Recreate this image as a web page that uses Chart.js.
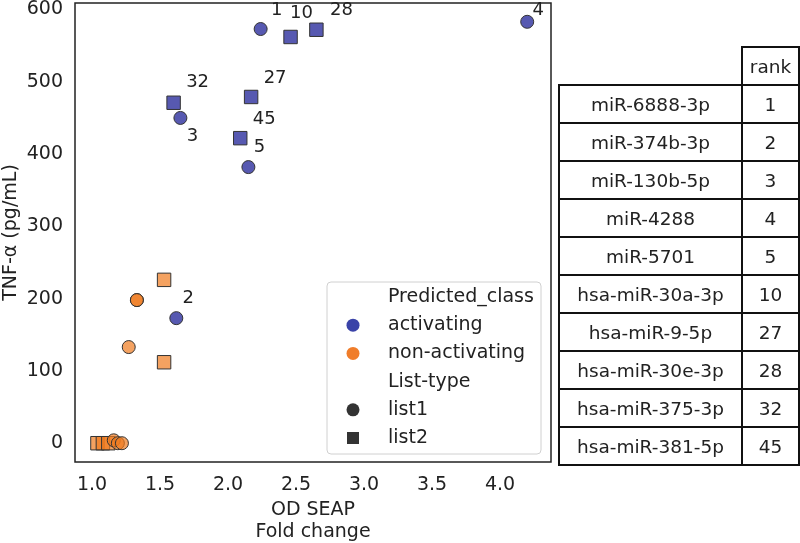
<!DOCTYPE html>
<html>
<head>
<meta charset="utf-8">
<script src="https://cdn.jsdelivr.net/npm/chart.js@4.4.1/dist/chart.umd.min.js"></script>
<style>
  body { margin: 0; background: #fff; }
  #wrap { position: relative; width: 800px; height: 543px; }
  #rankTable {
    position: absolute; left: 558px; top: 46px;
    border-collapse: collapse;
    font-family: "DejaVu Sans"; font-size: 18.5px; color: #222;
  }
  #rankTable td { border: 2px solid #111; height: 38px; box-sizing: border-box; text-align: center; padding: 0; }
  #rankTable td.blank { border: none; border-bottom: 2px solid #111; }
</style>
</head>
<body>
<div id="wrap">
  <canvas id="chart" width="800" height="543"></canvas>
  <table id="rankTable"></table>
</div>
<script>
// axis ticks
var xTicks = [1.0, 1.5, 2.0, 2.5, 3.0, 3.5, 4.0];
var yTicks = [0, 100, 200, 300, 400, 500, 600];

// activating, list1 (circles)
var actList1Rank = [1, 2, 3, 4, 5];
var actList1X = [2.24, 1.62, 1.65, 4.20, 2.15];
var actList1Y = [573, 173, 450, 583, 382];

// activating, list2 (squares)
var actList2Rank = [10, 27, 28, 32, 45];
var actList2X = [2.46, 2.17, 2.65, 1.60, 2.09];
var actList2Y = [562, 479, 572, 471, 422];

// non-activating
var nonList1X = [1.33, 1.33, 1.27, 1.16, 1.19, 1.22];
var nonList1Y = [198, 198, 133, 4, 0, 0];
var nonList2X = [1.53, 1.53, 1.04, 1.08, 1.12];
var nonList2Y = [226, 112, 0, 0, 0];

// table
var mirNames = ["miR-6888-3p", "miR-374b-3p", "miR-130b-5p", "miR-4288", "miR-5701",
  "hsa-miR-30a-3p", "hsa-miR-9-5p", "hsa-miR-30e-3p", "hsa-miR-375-3p", "hsa-miR-381-5p"];
var mirRanks = [1, 2, 3, 4, 5, 10, 27, 28, 32, 45];

// legend
var legendLabels = ["Predicted_class", "activating", "non-activating", "List-type", "list1", "list2"];

var FONT = "DejaVu Sans";
var blueFill = "rgba(45, 47, 158, 0.8)";
var orangeFill = "rgba(240, 122, 30, 0.7)";
var edge = "#333";

// label offsets in px, by rank
var labelOffset = {
  1: [16, -19], 2: [12, -20], 3: [12, 18], 4: [11, -11], 5: [11, -20],
  10: [11, -24], 27: [24, -19], 28: [25, -19], 32: [24, -20], 45: [24, -19]
};

function pts(xs, ys) {
  return xs.map(function (x, i) { return { x: x, y: ys[i] }; });
}

// build table
var tbl = document.getElementById("rankTable");
var html = '<tr><td class="blank" style="width:183px"></td><td style="width:57px">rank</td></tr>';
mirNames.forEach(function (n, i) {
  html += "<tr><td>" + n + "</td><td>" + mirRanks[i] + "</td></tr>";
});
tbl.innerHTML = html;

var framePlugin = {
  id: "frame",
  beforeDatasetsDraw: function (chart) {
    var a = chart.chartArea, ctx = chart.ctx;
    ctx.save();
    ctx.strokeStyle = "#222";
    ctx.lineWidth = 1.5;
    ctx.strokeRect(a.left, a.top, a.right - a.left, a.bottom - a.top);
    ctx.restore();
  }
};

var labelPlugin = {
  id: "rankLabels",
  afterDatasetsDraw: function (chart) {
    var ctx = chart.ctx;
    ctx.save();
    ctx.font = "18px '" + FONT + "'";
    ctx.fillStyle = "#222";
    ctx.textAlign = "center";
    ctx.textBaseline = "middle";
    chart.data.datasets.forEach(function (ds, di) {
      if (!ds.ranks) return;
      var meta = chart.getDatasetMeta(di);
      ds.ranks.forEach(function (r, i) {
        var el = meta.data[i], off = labelOffset[r];
        ctx.fillText(String(r), el.x + off[0], el.y + off[1]);
      });
    });
    ctx.restore();
  }
};

var legendPlugin = {
  id: "boxLegend",
  afterDatasetsDraw: function (chart) {
    var a = chart.chartArea, ctx = chart.ctx;
    var w = 214, h = 172;
    var x0 = a.right - 10 - w, y0 = a.bottom - 8 - h;
    ctx.save();
    ctx.fillStyle = "rgba(255,255,255,0.85)";
    ctx.strokeStyle = "#d0d0d0";
    ctx.lineWidth = 1;
    ctx.beginPath();
    ctx.roundRect(x0, y0, w, h, 4);
    ctx.fill();
    ctx.stroke();
    ctx.font = "19px '" + FONT + "'";
    ctx.textBaseline = "middle";
    var markers = [null, "blue", "orange", null, "circle", "square"];
    legendLabels.forEach(function (lab, i) {
      var cy = y0 + 15 + i * 28.2, mx = x0 + 26;
      var m = markers[i];
      if (m === "blue" || m === "orange" || m === "circle") {
        ctx.fillStyle = m === "blue" ? "#3a43a8" : m === "orange" ? "#f07d2a" : "#333";
        ctx.beginPath();
        ctx.arc(mx, cy, 6.5, 0, Math.PI * 2);
        ctx.fill();
      } else if (m === "square") {
        ctx.fillStyle = "#333";
        ctx.fillRect(mx - 6, cy - 6, 12, 12);
      }
      ctx.fillStyle = "#222";
      ctx.fillText(lab, x0 + 61, cy);
    });
    ctx.restore();
  }
};

var ctx = document.getElementById("chart").getContext("2d");
var chart = new Chart(ctx, {
  type: "scatter",
  data: {
    datasets: [
      {
        label: "non-activating list1",
        data: pts(nonList1X, nonList1Y),
        pointStyle: "circle",
        pointRadius: 6.5,
        backgroundColor: orangeFill,
        borderColor: edge,
        borderWidth: 1
      },
      {
        label: "non-activating list2",
        data: pts(nonList2X, nonList2Y),
        pointStyle: "rect",
        pointRadius: 9.5,
        backgroundColor: orangeFill,
        borderColor: edge,
        borderWidth: 1
      },
      {
        label: "activating list1",
        data: pts(actList1X, actList1Y),
        ranks: actList1Rank,
        pointStyle: "circle",
        pointRadius: 6.5,
        backgroundColor: blueFill,
        borderColor: edge,
        borderWidth: 1
      },
      {
        label: "activating list2",
        data: pts(actList2X, actList2Y),
        ranks: actList2Rank,
        pointStyle: "rect",
        pointRadius: 9.5,
        backgroundColor: blueFill,
        borderColor: edge,
        borderWidth: 1
      }
    ]
  },
  options: {
    responsive: false,
    animation: false,
    layout: { autoPadding: false, padding: { top: 3, right: 249, left: 0, bottom: 0 } },
    plugins: {
      legend: { display: false },
      tooltip: { enabled: false }
    },
    scales: {
      x: {
        type: "linear",
        min: 0.875,
        max: 4.375,
        afterBuildTicks: function (s) { s.ticks = xTicks.map(function (v) { return { value: v }; }); },
        afterFit: function (s) { s.height = 81; s.paddingLeft = 0; s.paddingRight = 0; },
        grid: { display: false, drawTicks: false },
        border: { display: false },
        ticks: {
          padding: 12,
          color: "#222",
          font: { family: FONT, size: 19 },
          callback: function (v) { return Number(v).toFixed(1); }
        },
        title: {
          display: true,
          text: ["OD SEAP", "Fold change"],
          color: "#222",
          font: { family: FONT, size: 19, lineHeight: 1.15 },
          padding: { top: 4, bottom: 0 }
        }
      },
      y: {
        type: "linear",
        min: -26,
        max: 609,
        afterBuildTicks: function (s) { s.ticks = yTicks.map(function (v) { return { value: v }; }); },
        afterFit: function (s) { s.width = 75; s.paddingTop = 0; s.paddingBottom = 0; },
        grid: { display: false, drawTicks: false },
        border: { display: false },
        ticks: {
          padding: 12,
          color: "#222",
          font: { family: FONT, size: 19 }
        },
        title: {
          display: true,
          text: "TNF-α (pg/mL)",
          color: "#222",
          font: { family: FONT, size: 19 },
          padding: { top: 0, bottom: 0 }
        }
      }
    }
  },
  plugins: [framePlugin, labelPlugin, legendPlugin]
});
</script>
</body>
</html>
